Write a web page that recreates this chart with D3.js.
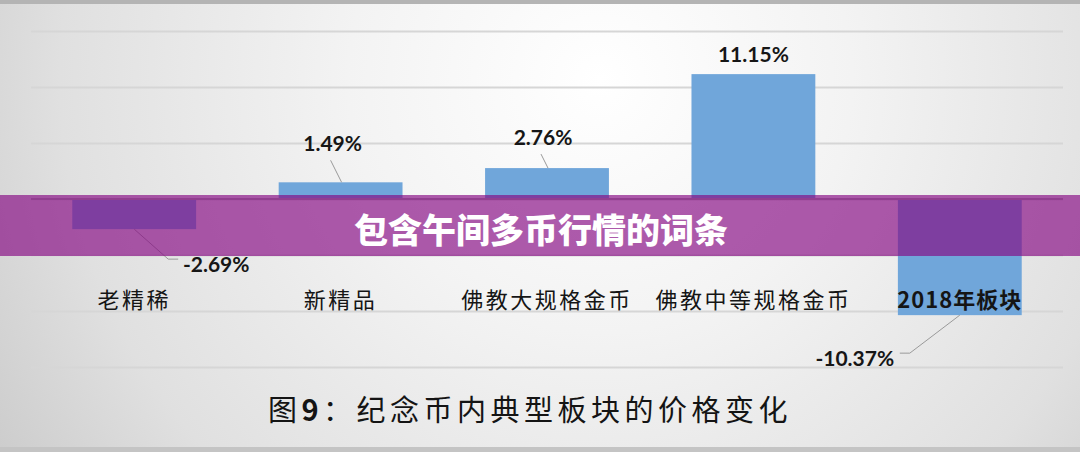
<!DOCTYPE html>
<html><head><meta charset="utf-8">
<script src="https://cdn.jsdelivr.net/npm/d3@7/dist/d3.min.js"></script>
<style>
html,body{margin:0;padding:0;background:#eee;}
svg{display:block;}
</style></head>
<body>
<svg id="c" width="1080" height="452"></svg>
<script>
const categories = ["老精稀","新精品","佛教大规格金币","佛教中等规格金币","2018年板块"];
const values = [-2.69, 1.49, 2.76, 11.15, -10.37];
const tickValues = [-15,-10,-5,0,5,10,15];
const captionParts = ["图","9","：纪念币内典型板块的价格变化"];
const bannerText = "包含午间多币行情的词条";
// label placement (layout): offset of label centre from bar end, and leader line flag
const labelLayout = [
  {dx:82, dy:34, leader:true},
  {dx:-8, dy:-40, leader:true},
  {dx:-4, dy:-32, leader:true},
  {dx:0, dy:-21, leader:false},
  {dx:-105, dy:42, leader:true}
];

const W=1080,H=452;
const svg=d3.select("#c");
const defs=svg.append("defs");
const bg=defs.append("radialGradient").attr("id","bg").attr("gradientUnits","userSpaceOnUse")
  .attr("cx",600).attr("cy",80).attr("r",720);
bg.append("stop").attr("offset","0").attr("stop-color","#ffffff");
bg.append("stop").attr("offset","0.35").attr("stop-color","#f3f3f3");
bg.append("stop").attr("offset","0.75").attr("stop-color","#e0e0e0");
bg.append("stop").attr("offset","1").attr("stop-color","#cbcbcb");
const gg=defs.append("linearGradient").attr("id","grid").attr("gradientUnits","userSpaceOnUse")
  .attr("x1",0).attr("y1",0).attr("x2",0).attr("y2",452);
gg.append("stop").attr("offset","0").attr("stop-color","#d6d6d6");
gg.append("stop").attr("offset","1").attr("stop-color","#8c8c8c");

svg.append("rect").attr("width",W).attr("height",H).attr("fill","url(#bg)");
svg.append("rect").attr("width",W).attr("height",4).attr("fill","#b4b4b4");
svg.append("rect").attr("y",447).attr("width",W).attr("height",5).attr("fill","#c4c4c4");

const x=d3.scaleBand().domain(categories).range([31,1063]).paddingInner(0.4).paddingOuter(0.2);
const y=d3.scaleLinear().domain([-15,15]).range([367,31]);

// gridlines via axis
const gAxis=svg.append("g").attr("transform","translate(31,0)")
  .call(d3.axisRight(y).tickValues(tickValues).tickSize(1032).tickFormat(""));
gAxis.select(".domain").remove();
gAxis.selectAll(".tick line").attr("stroke","url(#grid)").attr("stroke-width",2);

// bars
svg.append("g").selectAll("rect").data(values).join("rect")
  .attr("x",(d,i)=>x(categories[i]))
  .attr("width",x.bandwidth())
  .attr("y",d=>y(Math.max(0,d)))
  .attr("height",d=>Math.abs(y(d)-y(0)))
  .attr("fill","#70a6da");

// zero line on top of bars
svg.append("line").attr("x1",31).attr("x2",1063).attr("y1",y(0)).attr("y2",y(0))
  .attr("stroke","#a8a8a8").attr("stroke-width",2);

// labels + leader lines
const fmt=d=>d.toFixed(2)+"%";
values.forEach((v,i)=>{
  const cx=x(categories[i])+x.bandwidth()/2;
  const ey=y(v);
  const L=labelLayout[i];
  const lx=cx+L.dx, ly=ey+L.dy;
  if(L.leader){
    let pts;
    if(v<0){
      const tx=lx-38, ty=ly-4;
      pts = (L.dx>0) ? [[cx,ey],[tx-10,ty],[tx,ty]] : [[cx,ey],[lx+55,ty],[lx+45,ty]];
    } else {
      pts=[[cx+1,ey],[lx-2,ly+18]];
    }
    svg.append("path").attr("d",d3.line()(pts)).attr("fill","none")
      .attr("stroke","#9a9a9a").attr("stroke-width",1);
  }
  svg.append("text").attr("x",lx).attr("y",ly).attr("text-anchor","middle")
    .attr("dominant-baseline","central")
    .attr("font-family","Lato, 'Open Sans', sans-serif").attr("font-weight",700)
    .attr("font-size",21).attr("fill","#161616").text(fmt(v));
});

// category labels
svg.append("g").selectAll("text").data(categories).join("text")
  .attr("x",d=>x(d)+x.bandwidth()/2)
  .attr("y",308)
  .attr("text-anchor","middle")
  .attr("font-family","'Noto Sans CJK SC', sans-serif")
  .attr("font-size",22)
  .attr("letter-spacing",d=>/\d/.test(d)?1:2.5)
  .attr("font-weight",(d,i)=>i===4?700:400)
  .attr("fill","#151515")
  .text(d=>d);

// caption
const cap=svg.append("text").attr("x",530).attr("y",421).attr("text-anchor","middle")
  .attr("font-family","'Noto Sans CJK SC', sans-serif").attr("font-size",29)
  .attr("letter-spacing",4.5).attr("fill","#141414");
cap.selectAll("tspan").data(captionParts).join("tspan")
  .attr("font-weight",(d,i)=>i===1?700:400).text(d=>d);

// banner overlay
svg.append("rect").attr("x",0).attr("y",195).attr("width",W).attr("height",61)
  .attr("fill","rgb(134,8,130)").attr("fill-opacity",0.66);
svg.append("text").attr("x",541).attr("y",228).attr("text-anchor","middle")
  .attr("dominant-baseline","central")
  .attr("font-family","'Noto Sans CJK SC', sans-serif").attr("font-weight",900)
  .attr("font-size",34).attr("fill","#ffffff").text(bannerText);
</script>
</body></html>
